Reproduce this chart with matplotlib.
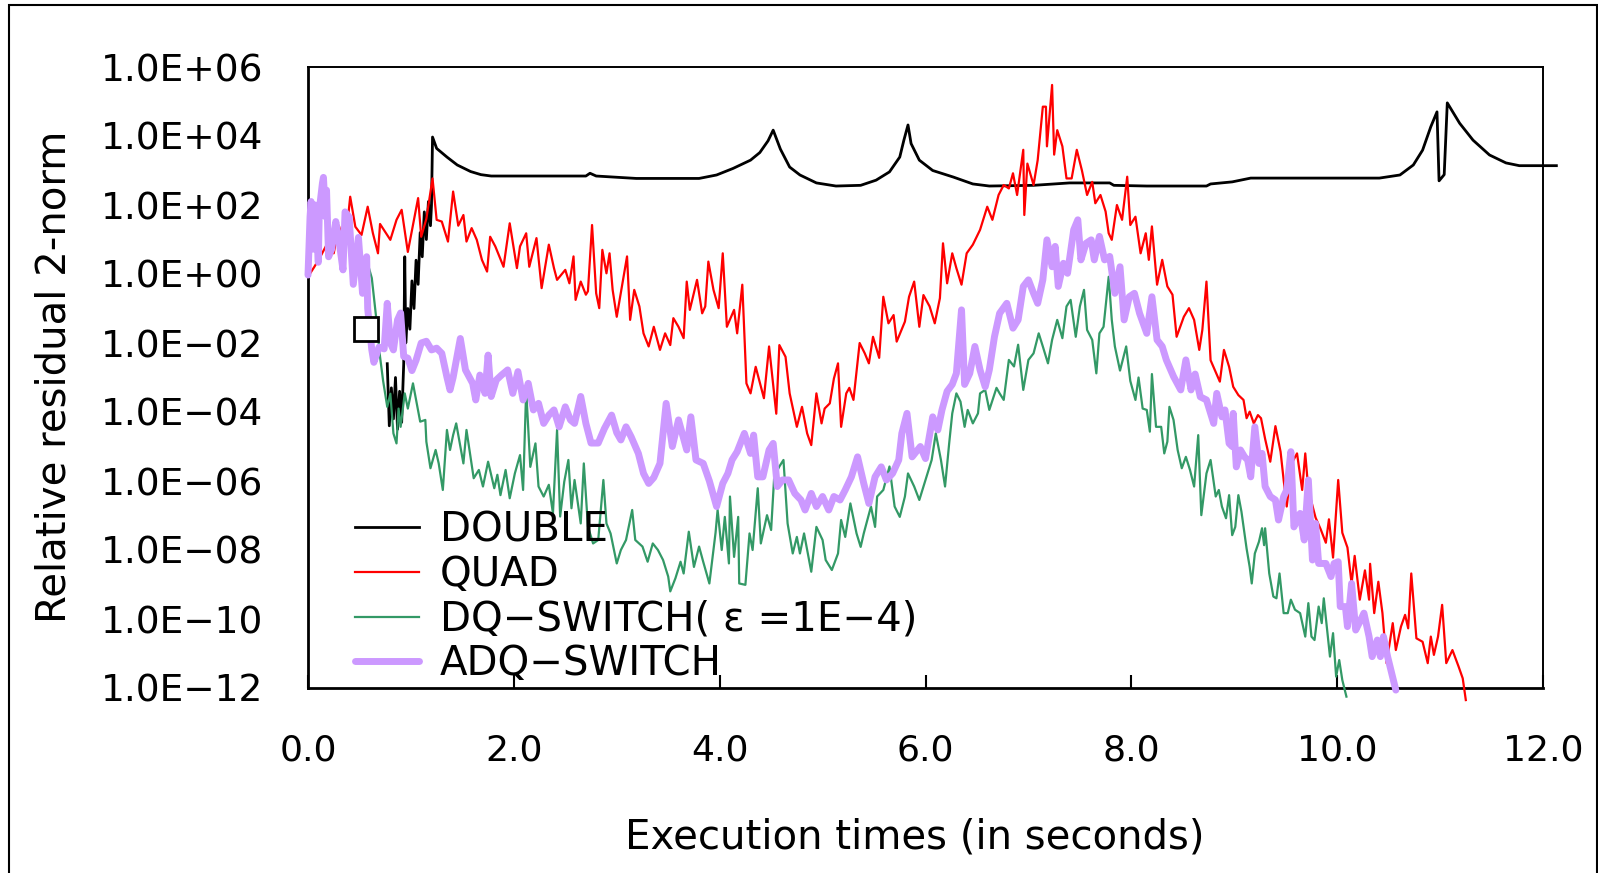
# residual history chart
import numpy as np
import matplotlib
matplotlib.use("Agg")
import matplotlib.pyplot as plt
from matplotlib.patches import Rectangle
from matplotlib.ticker import FixedLocator, NullLocator

plt.rcParams['font.family'] = ['DejaVu Sans', 'Noto Sans CJK JP']

# ---- data (time in seconds, residual as power of ten) ----
double_t = [0.77, 0.79, 0.81, 0.83, 0.85, 0.87, 0.89, 0.91, 0.93, 0.94, 0.95, 0.97, 0.99,
            1.01, 1.03, 1.05, 1.07, 1.09, 1.11, 1.13, 1.15, 1.17, 1.19, 1.20, 1.21, 1.25,
            1.35, 1.45, 1.58, 1.68, 1.78, 2.2, 2.7, 2.74, 2.8, 3.19, 3.8, 3.97, 4.13, 4.30,
            4.39, 4.47, 4.52, 4.59, 4.68, 4.78, 4.94, 5.13, 5.37, 5.52, 5.65, 5.75, 5.79,
            5.83, 5.86, 5.94, 6.07, 6.27, 6.46, 6.62, 7.05, 7.40, 7.79, 7.83, 8.15, 8.73,
            8.77, 8.98, 9.16, 10.41, 10.61, 10.74, 10.83, 10.91, 10.97, 10.99, 11.04,
            11.07, 11.19, 11.32, 11.48, 11.64, 11.77, 12.13]
double_exp = [-2.6, -4.4, -3.3, -4.2, -3.0, -4.5, -3.4, -4.3, -2.6, 0.5, -2.0, -1.0, -1.6,
              -0.2, -1.0, 0.4, -0.3, 1.2, 0.5, 1.8, 1.0, 2.1, 1.4, 2.0, 3.97, 3.64,
              3.39, 3.16, 2.97, 2.88, 2.84, 2.84, 2.84, 2.92, 2.84, 2.77, 2.77, 2.87, 3.06, 3.3,
              3.52, 3.86, 4.17, 3.62, 3.1, 2.87, 2.64, 2.55, 2.57, 2.72, 2.96, 3.39, 3.88,
              4.32, 3.78, 3.3, 3.0, 2.81, 2.61, 2.55, 2.57, 2.64, 2.64, 2.57, 2.55, 2.55,
              2.61, 2.67, 2.78, 2.78, 2.87, 3.16, 3.59, 4.27, 4.7, 2.7, 2.88,
              4.96, 4.37, 3.88, 3.45, 3.22, 3.14, 3.14]

quad_t = [0.00, 0.06, 0.12, 0.19, 0.25, 0.30, 0.36, 0.41, 0.46, 0.52, 0.58, 0.63, 0.68, 0.70,
          0.80, 0.86, 0.91, 0.97, 1.07, 1.10, 1.15, 1.21, 1.25, 1.30, 1.36, 1.41, 1.46, 1.51,
          1.54, 1.59, 1.64, 1.69, 1.74, 1.77, 1.82, 1.90, 1.96, 2.03, 2.06, 2.12, 2.15, 2.22,
          2.27, 2.34, 2.39, 2.42, 2.50, 2.54, 2.58, 2.60, 2.65, 2.70, 2.72, 2.76, 2.80, 2.83,
          2.86, 2.90, 2.93, 2.96, 3.00, 3.05, 3.10, 3.13, 3.17, 3.22, 3.26, 3.31, 3.36, 3.42,
          3.47, 3.52, 3.55, 3.60, 3.65, 3.68, 3.71, 3.78, 3.83, 3.86, 3.89, 3.94, 3.99, 4.03,
          4.07, 4.14, 4.17, 4.22, 4.26, 4.30, 4.35, 4.43, 4.48, 4.55, 4.58, 4.64, 4.68, 4.75,
          4.80, 4.85, 4.89, 4.94, 4.99, 5.02, 5.07, 5.11, 5.15, 5.18, 5.23, 5.26, 5.30, 5.36,
          5.41, 5.45, 5.49, 5.55, 5.59, 5.64, 5.69, 5.72, 5.80, 5.84, 5.89, 5.94, 5.98, 6.04,
          6.09, 6.14, 6.17, 6.21, 6.26, 6.30, 6.35, 6.40, 6.46, 6.53, 6.60, 6.65, 6.71, 6.76,
          6.81, 6.85, 6.89, 6.95, 6.96, 6.99, 7.05, 7.09, 7.14, 7.17, 7.18, 7.23, 7.25, 7.28,
          7.33, 7.37, 7.42, 7.47, 7.52, 7.57, 7.62, 7.65, 7.70, 7.75, 7.78, 7.81, 7.86, 7.91,
          7.96, 7.99, 8.04, 8.09, 8.14, 8.17, 8.20, 8.25, 8.30, 8.35, 8.40, 8.44, 8.51, 8.56,
          8.61, 8.66, 8.69, 8.73, 8.77, 8.82, 8.86, 8.90, 8.95, 8.99, 9.04, 9.09, 9.12, 9.15,
          9.19, 9.23, 9.26, 9.30, 9.35, 9.40, 9.45, 9.48, 9.51, 9.56, 9.61, 9.66, 9.69, 9.72,
          9.79, 9.84, 9.89, 9.92, 9.96, 10.01, 10.05, 10.10, 10.14, 10.17, 10.22, 10.27, 10.31,
          10.32, 10.36, 10.40, 10.44, 10.48, 10.54, 10.57, 10.62, 10.66, 10.69, 10.72, 10.77,
          10.83, 10.88, 10.91, 10.94, 10.98, 11.02, 11.06, 11.12, 11.18, 11.22, 11.25]
quad_exp = [-0.08, 0.2, 0.5, 0.9, 0.6, 1.4, 0.8, 2.24, 1.37, 1.13, 1.95, 1.19, 0.6, 1.45,
            0.99, 1.57, 1.86, 0.64, 2.2, 1.08, 1.6, 2.77, 1.57, 1.52, 0.94, 2.39, 1.4, 1.71,
            0.94, 1.33, 0.99, 0.41, 0.07, 1.08, 0.8, 0.21, 1.47, 0.17, 0.8, 1.18, 0.21, 1.04,
            -0.41, 0.85, 0.17, -0.17, 0.12, -0.27, 0.51, -0.75, -0.22, -0.6, -0.5, 1.42, -0.56, -0.99,
            0.7, 0.02, 0.6, -0.46, -1.24, -0.36, 0.51, -1.33, -0.46, -0.94, -1.72, -2.1, -1.53, -2.2,
            -1.72, -2.06, -1.28, -1.53, -1.86, -0.22, -1.04, -0.17, -1.14, -0.94, 0.36, -0.46, -0.99, 0.6,
            -1.53, -1.04, -1.72, -0.31, -3.17, -3.46, -2.69, -3.6, -2.1, -4.05, -2.06, -2.4, -3.46, -4.43,
            -3.85, -4.62, -4.96, -3.46, -4.33, -3.9, -3.75, -3.03, -2.59, -4.43, -3.46, -3.3, -3.65, -2.0,
            -2.3, -2.59, -1.82, -2.43, -0.66, -1.43, -1.19, -1.96, -1.38, -0.66, -0.22, -1.53, -0.61, -0.94,
            -1.43, -0.7, 0.89, -0.27, 0.6, 0.17, -0.31, 0.6, 0.85, 1.28, 1.95, 1.57, 2.29, 2.58,
            2.48, 2.92, 2.29, 3.6, 1.71, 3.2, 2.58, 3.3, 4.85, 4.85, 3.7, 5.48, 3.46, 4.17,
            3.7, 2.77, 2.77, 3.6, 3.0, 2.29, 2.67, 2.05, 2.29, 1.81, 1.18, 0.99, 2.0, 1.57,
            2.82, 1.42, 1.66, 0.6, 1.18, 0.41, 1.38, -0.31, 0.41, -0.36, -0.6, -1.82, -1.24, -0.99,
            -1.33, -2.2, -1.62, -0.22, -2.5, -2.84, -3.12, -2.2, -2.69, -3.27, -3.51, -3.65, -4.18, -3.99,
            -4.33, -4.09, -4.18, -4.78, -5.44, -4.41, -5.15, -5.97, -6.74, -5.48, -5.2, -6.26, -5.2, -6.26,
            -7.06, -7.4, -7.79, -7.11, -8.22, -5.97, -7.5, -7.93, -8.97, -8.17, -9.44, -8.59, -9.44,
            -8.4, -9.83, -8.92, -9.83, -11.28, -10.12, -10.9, -10.22, -9.88, -10.27, -8.68, -10.56,
            -10.66, -11.28, -10.51, -11.04, -10.51, -9.59, -11.28, -10.9, -11.38, -11.72, -12.35]

dq_t = [0.58, 0.62, 0.66, 0.70, 0.73, 0.77, 0.80, 0.83, 0.86, 0.88, 0.90, 0.94, 0.97, 1.02,
        1.05, 1.09, 1.14, 1.15, 1.19, 1.24, 1.27, 1.31, 1.35, 1.38, 1.41, 1.44, 1.48, 1.51,
        1.54, 1.61, 1.66, 1.70, 1.75, 1.81, 1.84, 1.87, 1.92, 1.96, 2.01, 2.06, 2.09, 2.12,
        2.16, 2.21, 2.24, 2.29, 2.34, 2.38, 2.42, 2.45, 2.49, 2.53, 2.56, 2.59, 2.65, 2.68,
        2.72, 2.77, 2.82, 2.87, 2.90, 2.94, 3.00, 3.04, 3.09, 3.15, 3.18, 3.25, 3.30, 3.35,
        3.40, 3.45, 3.50, 3.52, 3.57, 3.62, 3.65, 3.70, 3.75, 3.80, 3.84, 3.90, 3.96, 3.98,
        4.02, 4.05, 4.09, 4.10, 4.14, 4.18, 4.19, 4.25, 4.29, 4.32, 4.37, 4.40, 4.46, 4.50,
        4.53, 4.58, 4.62, 4.66, 4.71, 4.75, 4.78, 4.82, 4.89, 4.94, 5.00, 5.03, 5.09, 5.15,
        5.18, 5.22, 5.27, 5.33, 5.37, 5.40, 5.47, 5.51, 5.53, 5.59, 5.65, 5.70, 5.75, 5.80,
        5.83, 5.89, 5.94, 6.00, 6.06, 6.10, 6.15, 6.19, 6.23, 6.26, 6.30, 6.34, 6.38, 6.41,
        6.46, 6.51, 6.53, 6.58, 6.62, 6.69, 6.72, 6.76, 6.81, 6.86, 6.90, 6.95, 7.00, 7.05,
        7.10, 7.14, 7.19, 7.23, 7.28, 7.33, 7.37, 7.41, 7.46, 7.50, 7.54, 7.57, 7.62, 7.66,
        7.69, 7.73, 7.78, 7.81, 7.84, 7.89, 7.95, 7.99, 8.04, 8.07, 8.11, 8.15, 8.18, 8.20,
        8.24, 8.29, 8.32, 8.35, 8.37, 8.41, 8.45, 8.49, 8.53, 8.57, 8.61, 8.65, 8.68, 8.73,
        8.77, 8.82, 8.85, 8.88, 8.92, 8.95, 8.98, 9.01, 9.04, 9.07, 9.12, 9.15, 9.17, 9.20,
        9.24, 9.27, 9.29, 9.30, 9.34, 9.38, 9.41, 9.44, 9.48, 9.52, 9.55, 9.59, 9.64, 9.69,
        9.72, 9.75, 9.78, 9.82, 9.85, 9.87, 9.93, 9.96, 9.99, 10.02, 10.05, 10.09]
dq_exp = [0.3, -0.12, -1.2, -2.4, -3.1, -3.85, -3.47, -4.62, -4.91, -3.9, -4.43, -3.46, -3.9, -3.17,
          -3.65, -4.28, -4.23, -4.86, -5.63, -5.1, -5.49, -6.26, -4.52, -5.1, -4.67, -4.33, -5.0, -5.49,
          -4.52, -5.92, -5.68, -6.16, -5.44, -6.21, -5.82, -6.41, -5.68, -6.5, -5.78, -5.25, -6.26, -3.36,
          -5.59, -4.91, -6.16, -6.45, -6.11, -6.94, -4.52, -7.03, -6.02, -5.39, -6.79, -5.97, -7.23, -5.49,
          -7.32, -7.81, -7.71, -5.97, -7.23, -7.52, -8.39, -8.0, -7.71, -6.84, -7.71, -7.9, -8.34, -7.81,
          -8.0, -8.29, -8.77, -9.2, -8.82, -8.34, -8.68, -7.47, -8.49, -7.9, -8.34, -8.97, -7.5, -6.84,
          -8.0, -7.04, -8.39, -6.45, -8.2, -7.04, -8.97, -9.01, -7.52, -8.0, -6.21, -7.81, -6.99, -7.42,
          -5.87, -5.58, -5.39, -7.23, -8.1, -7.62, -8.1, -7.52, -8.63, -7.33, -7.71, -8.29, -8.58, -8.1,
          -7.13, -7.62, -6.65, -7.52, -7.91, -7.52, -6.74, -7.33, -6.45, -6.26, -5.58, -6.74, -7.04, -6.45,
          -5.78, -6.16, -6.55, -5.97, -5.39, -4.62, -5.39, -6.16, -4.91, -4.04, -3.46, -3.7, -4.43, -3.94,
          -4.33, -4.04, -3.46, -3.36, -3.94, -3.3, -3.46, -3.65, -2.49, -2.68, -2.05, -3.36, -2.49, -2.3,
          -1.72, -2.1, -2.59, -1.91, -1.33, -1.86, -0.94, -0.75, -1.82, -0.94, -0.46, -1.62, -1.91, -2.88,
          -1.72, -1.53, -0.08, -1.33, -2.1, -2.8, -2.1, -3.1, -3.65, -3.0, -3.9, -3.94, -4.57, -2.9,
          -4.43, -4.43, -5.2, -4.86, -3.85, -4.23, -5.1, -5.63, -5.3, -5.68, -6.16, -4.67, -6.99, -5.78,
          -5.39, -6.45, -6.26, -6.74, -7.08, -6.41, -7.57, -7.33, -6.41, -6.89, -7.96, -8.49, -8.97, -8.1,
          -7.76, -7.37, -7.86, -7.37, -8.68, -9.35, -9.4, -8.68, -9.83, -9.83, -9.44, -9.73, -9.83, -10.51,
          -9.54, -10.51, -10.61, -9.64, -10.12, -9.4, -11.09, -10.41, -11.67, -11.19, -11.77, -12.25]

adq_t = [0.00, 0.02, 0.03, 0.05, 0.07, 0.10, 0.11, 0.14, 0.15, 0.17, 0.18, 0.20, 0.23, 0.27,
         0.30, 0.34, 0.36, 0.40, 0.44, 0.49, 0.53, 0.57, 0.58, 0.62, 0.64, 0.69, 0.74, 0.77,
         0.80, 0.83, 0.87, 0.90, 0.93, 0.97, 1.01, 1.05, 1.10, 1.15, 1.20, 1.25, 1.30, 1.35,
         1.38, 1.41, 1.48, 1.53, 1.60, 1.63, 1.67, 1.72, 1.75, 1.78, 1.83, 1.88, 1.94, 1.99,
         2.04, 2.09, 2.14, 2.19, 2.24, 2.29, 2.34, 2.39, 2.44, 2.50, 2.55, 2.59, 2.65, 2.70,
         2.75, 2.82, 2.88, 2.95, 3.00, 3.04, 3.09, 3.14, 3.21, 3.26, 3.31, 3.36, 3.42, 3.48,
         3.54, 3.60, 3.68, 3.72, 3.77, 3.84, 3.90, 3.97, 4.03, 4.08, 4.12, 4.17, 4.24, 4.30,
         4.33, 4.37, 4.42, 4.48, 4.52, 4.56, 4.61, 4.67, 4.73, 4.79, 4.83, 4.89, 4.94, 5.00,
         5.06, 5.11, 5.17, 5.22, 5.28, 5.34, 5.40, 5.45, 5.51, 5.57, 5.62, 5.68, 5.74, 5.77,
         5.82, 5.87, 5.95, 6.00, 6.07, 6.12, 6.16, 6.21, 6.26, 6.30, 6.35, 6.38, 6.43, 6.48,
         6.53, 6.58, 6.62, 6.67, 6.72, 6.79, 6.85, 6.90, 6.95, 7.00, 7.05, 7.09, 7.14, 7.18,
         7.23, 7.26, 7.29, 7.34, 7.38, 7.44, 7.48, 7.51, 7.56, 7.61, 7.64, 7.69, 7.74, 7.79,
         7.84, 7.89, 7.93, 7.98, 8.03, 8.08, 8.15, 8.20, 8.25, 8.30, 8.34, 8.41, 8.48, 8.53,
         8.58, 8.62, 8.67, 8.73, 8.80, 8.83, 8.88, 8.91, 8.95, 8.98, 8.99, 9.02, 9.06, 9.10,
         9.13, 9.16, 9.20, 9.24, 9.27, 9.30, 9.35, 9.40, 9.43, 9.48, 9.51, 9.55, 9.58, 9.61,
         9.64, 9.68, 9.72, 9.76, 9.79, 9.82, 9.89, 9.94, 9.97, 10.01, 10.03, 10.08, 10.10, 10.14,
         10.18, 10.23, 10.26, 10.31, 10.34, 10.39, 10.42, 10.45, 10.49, 10.57]
adq_exp = [-0.03, 1.66, 2.1, 0.72, 2.0, 0.34, 1.86, 2.63, 2.8, 1.66, 2.43, 0.5, 0.72, 1.52,
           1.0, 0.12, 1.8, 1.65, -0.3, 1.06, -0.56, 0.5, -1.0, -2.2, -2.56, -2.12, -2.17, -0.85,
           -2.0, -2.2, -1.33, -1.13, -2.39, -2.44, -2.8, -2.5, -2.0, -1.95, -2.2, -2.15, -2.3, -2.99,
           -3.36, -3.0, -1.87, -2.78, -3.17, -3.65, -2.93, -3.46, -2.35, -3.55, -3.07, -2.93, -2.78, -3.46,
           -2.83, -3.65, -3.17, -3.94, -3.75, -4.33, -4.09, -3.94, -4.43, -3.85, -4.23, -4.33, -3.55, -4.33,
           -4.9, -4.9, -4.48, -4.09, -4.6, -4.81, -4.43, -4.72, -5.2, -5.78, -6.07, -5.9, -5.49, -3.75,
           -5.0, -4.23, -5.1, -4.14, -5.39, -5.49, -6.0, -6.74, -6.07, -5.78, -5.39, -5.15, -4.62, -5.2,
           -4.67, -5.88, -5.88, -5.1, -4.91, -6.16, -5.97, -5.97, -6.36, -6.55, -6.84, -6.36, -6.74, -6.45,
           -6.84, -6.45, -6.55, -6.26, -5.88, -5.3, -6.07, -6.65, -5.88, -5.59, -5.97, -5.78, -5.39, -4.62,
           -4.04, -5.3, -5.0, -5.35, -4.14, -4.52, -3.94, -3.4, -3.2, -2.88, -1.04, -3.2, -2.88, -2.1,
           -2.78, -3.27, -2.78, -1.82, -1.14, -0.85, -1.57, -1.33, -0.36, -0.17, -0.56, -0.85, -0.17, 0.99,
           0.21, 0.8, -0.36, 0.31, 0.02, 1.28, 1.57, 0.41, 0.89, 0.99, 0.41, 1.09, 0.41, 0.51,
           -0.56, 0.21, -1.33, -0.66, -0.56, -1.14, -1.72, -0.66, -1.91, -2.1, -2.49, -2.97, -3.36, -2.49,
           -3.36, -2.9, -3.56, -3.65, -4.33, -3.46, -4.14, -3.94, -4.91, -5.0, -4.04, -5.59, -5.1, -5.3,
           -5.39, -5.88, -4.43, -5.49, -5.2, -6.16, -6.45, -6.55, -7.13, -6.45, -6.26, -5.15, -7.33, -7.13,
           -6.94, -7.71, -5.97, -8.29, -7.23, -8.39, -8.39, -8.77, -8.39, -8.34, -9.64, -9.64, -10.22, -8.97,
           -10.32, -10.02, -9.83, -10.51, -11.09, -10.61, -11.09, -10.51, -11.09, -12.06]

switch_t = [0.56]
switch_exp = [-1.6]

series_names = ["DOUBLE", "QUAD", "DQ−SWITCH( ε =1E−4)", "ADQ−SWITCH"]
series_colors = ["#000000", "#FF0000", "#339966", "#CC99FF"]

xticks = [0, 2, 4, 6, 8, 10, 12]
xtick_labels = ["0.0", "2.0", "4.0", "6.0", "8.0", "10.0", "12.0"]
ytick_exp = [6, 4, 2, 0, -2, -4, -6, -8, -10, -12]
ytick_labels = ["1.0E+06", "1.0E+04", "1.0E+02", "1.0E+00", "1.0E−02",
                "1.0E−04", "1.0E−06", "1.0E−08", "1.0E−10", "1.0E−12"]

# ---- figure ----
W, H = 1598, 873
fig = plt.figure(figsize=(W / 100, H / 100), dpi=100)
ax = fig.add_axes([308 / W, 1 - 688 / H, (1543 - 308) / W, (688 - 67) / H])

ax.plot(double_t, np.power(10.0, double_exp), color=series_colors[0], lw=2.0,
        label=series_names[0], clip_on=False, zorder=2, solid_joinstyle='round')
ax.plot(quad_t, np.power(10.0, quad_exp), color=series_colors[1], lw=1.6,
        label=series_names[1], clip_on=False, zorder=3, solid_joinstyle='round')
ax.plot(dq_t, np.power(10.0, dq_exp), color=series_colors[2], lw=1.6,
        label=series_names[2], clip_on=False, zorder=4, solid_joinstyle='round')
ax.plot(adq_t, np.power(10.0, adq_exp), color=series_colors[3], lw=5.0,
        label=series_names[3], clip_on=False, zorder=5,
        solid_joinstyle='round', solid_capstyle='round')
ax.plot(switch_t, np.power(10.0, switch_exp), ls='none', marker='s', ms=17,
        mfc='white', mec='black', mew=2, zorder=10, clip_on=False)

ax.set_yscale('log')
ax.set_xlim(0, 12)
ax.set_ylim(1e-12, 1e6)
ax.yaxis.set_major_locator(FixedLocator([10.0 ** e for e in ytick_exp]))
ax.yaxis.set_minor_locator(NullLocator())
ax.set_yticklabels(ytick_labels)
ax.set_xticks(xticks)
ax.set_xticklabels(xtick_labels)

ax.tick_params(axis='x', direction='in', length=9.5, width=1.5, pad=33,
               labelsize=26, top=False)
ax.tick_params(axis='y', length=0, pad=32, labelsize=27)

for side in ['left', 'bottom']:
    ax.spines[side].set_linewidth(2.0)
for side in ['top', 'right']:
    ax.spines[side].set_linewidth(1.4)

fig.text(55 / W, 1 - 377 / H, "Relative residual 2-norm", rotation=90,
         ha='center', va='center', fontsize=29)
fig.text(915 / W, 1 - 838 / H, "Execution times (in seconds)",
         ha='center', va='center', fontsize=29)

leg = ax.legend(loc='upper left', bbox_to_anchor=(355 / W, 1 - 510 / H),
                bbox_transform=fig.transFigure, frameon=False, fontsize=29,
                handlelength=1.6, handletextpad=0.5, labelspacing=0.12,
                borderpad=0, borderaxespad=0)
leg.set_zorder(20)

# outer frame of the picture
fig.patches.append(Rectangle((9 / W, -0.01), (1597 - 9) / W, 1.01 - 4.5 / H,
                             transform=fig.transFigure, fill=False,
                             edgecolor='black', lw=1.5))

fig.savefig("out.png", dpi=100)
